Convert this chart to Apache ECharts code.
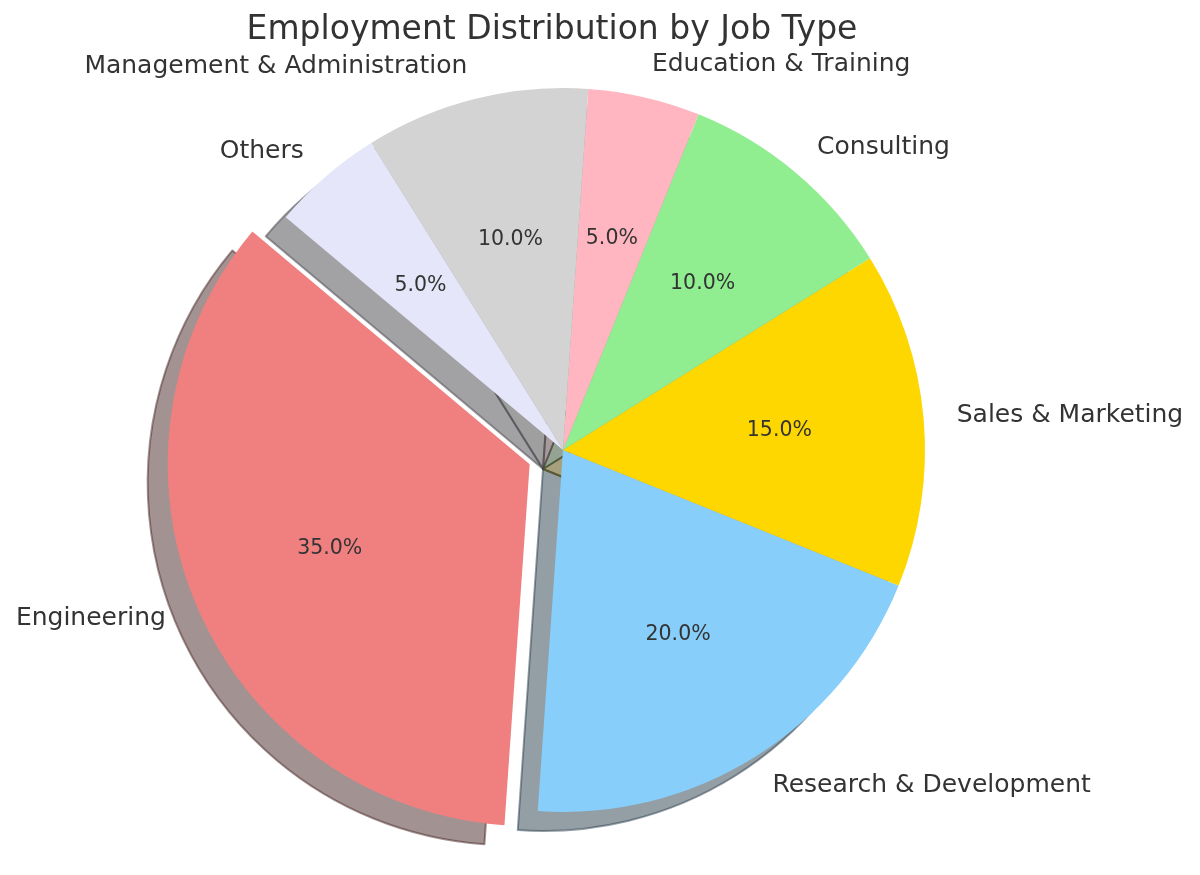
<!DOCTYPE html>
<html>
<head>
<meta charset="utf-8">
<script src="https://cdn.jsdelivr.net/npm/echarts@6/dist/echarts.min.js"></script>
<style>
  html, body { margin: 0; padding: 0; background: #fff; }
  #chart { width: 1200px; height: 875px; }
</style>
</head>
<body>
<div id="chart"></div>
<script>
// data
var jobTypes = ['Engineering', 'Research & Development', 'Sales & Marketing', 'Consulting',
                'Education & Training', 'Management & Administration', 'Others'];
var shares = [35, 20, 15, 10, 5, 10, 5];
var sliceColors = ['#F08080', '#87CEFA', '#FFD700', '#90EE90', '#FFB6C1', '#D3D3D3', '#E6E6FA'];
var exploded = ['Engineering'];

var R = 362;             // pie radius, px
var CENTER = [563, 450];
var SHADOW_DX = -20, SHADOW_DY = 19;
var FONT = 'DejaVu Sans';

// matplotlib-like shadow: 0.3 * colour at alpha 0.5
function shadowOf(hex) {
  var n = parseInt(hex.slice(1), 16);
  var r = Math.round(((n >> 16) & 255) * 0.3);
  var g = Math.round(((n >> 8) & 255) * 0.3);
  var b = Math.round((n & 255) * 0.3);
  return 'rgba(' + r + ',' + g + ',' + b + ',0.5)';
}

function buildData(styleFn) {
  return jobTypes.map(function (name, i) {
    return {
      name: name,
      value: shares[i],
      selected: exploded.indexOf(name) >= 0,
      itemStyle: styleFn(i)
    };
  });
}

var common = {
  type: 'pie',
  startAngle: 140,
  clockwise: false,
  selectedMode: 'multiple',
  selectedOffset: R * 0.1,
  avoidLabelOverlap: false,
  emphasis: { disabled: true },
  animation: false
};

var myChart = echarts.init(document.getElementById('chart'));
var option = {
  backgroundColor: '#fff',
  animation: false,
  title: {
    text: 'Employment Distribution by Job Type',
    left: 547,
    top: 9,
    textAlign: 'center',
    textStyle: { fontFamily: FONT, fontSize: 33, fontWeight: 'normal', color: '#333' }
  },
  series: [
    // shadow
    Object.assign({}, common, {
      name: 'shadow',
      silent: true,
      center: [CENTER[0] + SHADOW_DX, CENTER[1] + SHADOW_DY],
      radius: [0, R],
      label: { show: false },
      labelLine: { show: false },
      data: buildData(function (i) {
        var c = shadowOf(sliceColors[i]);
        return { color: c, borderColor: c, borderWidth: 2 };
      })
    }),
    // wedges + outer labels
    Object.assign({}, common, {
      name: 'Job Type',
      center: CENTER,
      radius: [0, R],
      label: {
        show: true,
        position: 'outside',
        distanceToLabelLine: 0,
        fontFamily: FONT,
        fontSize: 25,
        color: '#333',
        formatter: '{b}'
      },
      labelLine: { show: false, length: R * 0.1 - 3, length2: 0 },
      data: buildData(function (i) {
        return { color: sliceColors[i], borderWidth: 0 };
      })
    }),
    // percentage labels at 0.6 R
    Object.assign({}, common, {
      name: 'pct',
      silent: true,
      center: CENTER,
      radius: [R * 0.2 - 6, R],
      label: {
        show: true,
        position: 'inside',
        fontFamily: FONT,
        fontSize: 20.5,
        color: '#333',
        formatter: function (p) { return p.value.toFixed(1) + '%'; }
      },
      labelLine: { show: false },
      data: buildData(function () {
        return { color: 'rgba(0,0,0,0)', borderWidth: 0 };
      })
    })
  ]
};
myChart.setOption(option);
</script>
</body>
</html>
